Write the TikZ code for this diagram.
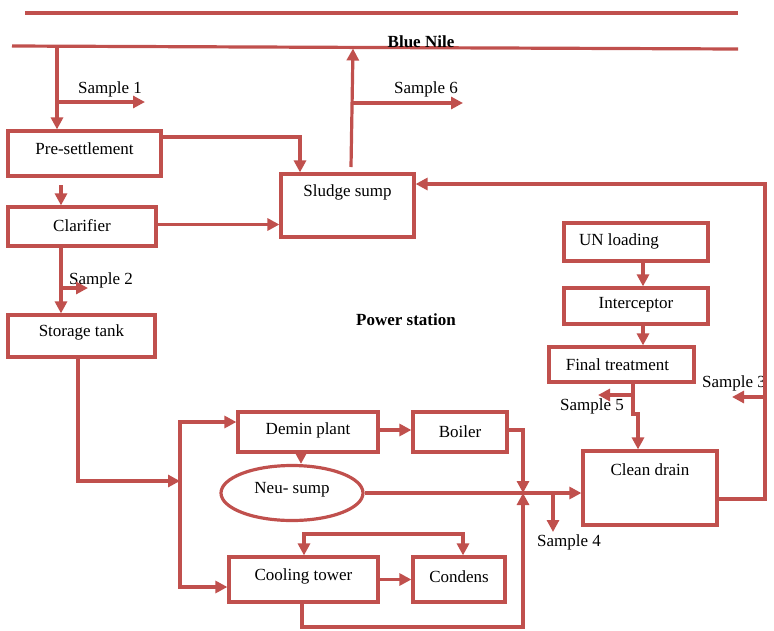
\documentclass[tikz,border=0pt]{standalone}
\usepackage{fontspec}
\setmainfont{Liberation Serif}
\usetikzlibrary{arrows.meta,shapes.geometric}
\definecolor{nred}{RGB}{192,80,77}
\begin{document}
\begin{tikzpicture}[x=1pt,y=-1pt,
  box/.style={draw=nred,line width=3.2pt,inner sep=0pt,rectangle},
  oval/.style={draw=nred,line width=3.2pt,inner sep=0pt,ellipse},
  txt/.style={font=\fontsize{17}{20}\selectfont,inner sep=0pt,text=black},
  btxt/.style={font=\fontsize{17}{20}\selectfont\bfseries,inner sep=0pt,text=black},
  ln/.style={draw=nred,line width=3.2pt,line join=miter},
  arr/.style={ln,-{Triangle[length=12pt,width=12pt]}},
  darr/.style={ln,{Triangle[length=12pt,width=12pt]}-{Triangle[length=12pt,width=12pt]}}]
\useasboundingbox (0,0) rectangle (774,630);

% rivers
\coordinate (topL) at (25,13);
\coordinate (topR) at (738,13);
\coordinate (nileL) at (12,46);
\coordinate (nileR) at (738,49);
\draw[ln] (topL) -- (topR);
\draw[ln] (nileL) -- (nileR);
\node[btxt] (bluenile) at (421,42) {Blue Nile};
\node[btxt] (power) at (406,320) {Power station};

% boxes
\node[box,minimum width=153pt,minimum height=45pt,label={[txt,yshift=5pt]center:Pre-settlement}] (pre) at (84.5,153.5) {};
\node[box,minimum width=148pt,minimum height=39pt,label={[txt,yshift=1pt]center:Clarifier}] (clar) at (82,226.5) {};
\node[box,minimum width=147pt,minimum height=42pt,label={[txt,yshift=4pt]center:Storage tank}] (stor) at (81.5,336) {};
\node[box,minimum width=133pt,minimum height=63pt,label={[txt,yshift=13pt]center:Sludge sump}] (sludge) at (347.5,205.5) {};
\node[box,minimum width=144pt,minimum height=38pt,label={[txt,xshift=-17pt,yshift=1pt]center:UN loading}] (un) at (636,242) {};
\node[box,minimum width=144pt,minimum height=36pt,label={[txt,yshift=1pt]center:Interceptor}] (inter) at (636,306) {};
\node[box,minimum width=145pt,minimum height=35pt,label={[txt,xshift=-4pt]center:Final treatment}] (final) at (621.5,364.5) {};
\node[box,minimum width=140pt,minimum height=40pt,label={[txt,yshift=2pt]center:Demin plant}] (demin) at (308,432) {};
\node[box,minimum width=94pt,minimum height=40pt,label={[txt]center:Boiler}] (boiler) at (460,432) {};
\node[oval,minimum width=142pt,minimum height=55pt,label={[txt,yshift=3pt]center:Neu- sump}] (neu) at (292,493) {};
\node[box,minimum width=149pt,minimum height=45pt,label={[txt,yshift=3pt]center:Cooling tower}] (cool) at (303.5,579.5) {};
\node[box,minimum width=92pt,minimum height=45pt,label={[txt,yshift=3pt]center:Condens}] (cond) at (459,579.5) {};
\node[box,minimum width=134pt,minimum height=74pt,label={[txt,yshift=18pt]center:Clean drain}] (clean) at (650,488) {};

% sample labels
\node[txt] (lab1) at (110,89) {Sample 1};
\node[txt] (lab6) at (426,89) {Sample 6};
\node[txt] (lab2) at (101,280) {Sample 2};
\node[txt] (lab3) at (734,383) {Sample 3};
\node[txt] (lab5) at (592,406) {Sample 5};
\node[txt] (lab4) at (569,542) {Sample 4};

% coordinates
\coordinate (nileA) at (57,46.3);
\coordinate (s1) at (57,102);
\coordinate (s1e) at (145,102);
\coordinate (nileB) at (353,48.5);
\coordinate (sludgeOut) at (351,167);
\coordinate (s6) at (352,103);
\coordinate (s6e) at (463,103);
\coordinate (pcA) at (61,185);
\coordinate (csA) at (61,246);
\coordinate (s2) at (61,288);
\coordinate (s2e) at (88,288);
\coordinate (bus) at (180,481);
\coordinate (busTop) at (180,422);
\coordinate (busBot) at (180,587);
\coordinate (junc) at (523,493);
\coordinate (juncB) at (523,627);
\coordinate (s4) at (553,493);
\coordinate (s4e) at (553,532);
\coordinate (loopM) at (383,534);
\coordinate (rtop) at (765,184);
\coordinate (s3) at (765,397);
\coordinate (s3e) at (732,397);
\coordinate (jog1) at (633,414);
\coordinate (jog2) at (638,414);
\coordinate (s5) at (633,395);
\coordinate (s5e) at (598,395);

% connectors
\draw[arr] (nileA) -- (nileA |- pre.north);
\draw[arr] (s1) -- (s1e);
\draw[arr] ([yshift=16.5pt]pre.east) -| ([xshift=-47.5pt]sludge.north);
\draw[arr] (pcA) -- (pcA |- clar.north);
\draw[arr] ([yshift=2pt]clar.east) -- ([yshift=2pt]clar.east -| sludge.west);
\draw[arr] (sludgeOut) -- (nileB);
\draw[arr] (s6) -- (s6e);
\draw[arr] (csA) -- (csA |- stor.north);
\draw[arr] (s2) -- (s2e);
\draw[arr] ([xshift=-3.5pt]stor.south) |- (bus);
\draw[arr] (busBot) -- (busTop) -- (busTop -| demin.west);
\draw[arr] (bus) -- (busBot) -- (busBot -| cool.west);
\draw[arr] ([yshift=2pt]demin.east) -- ([yshift=2pt]demin.east -| boiler.west);
\draw[arr] ([yshift=2pt]boiler.east) -| (junc);
\draw[arr] ([xshift=-7pt]demin.south) -- ([xshift=9pt]neu.north);
\draw[arr] (neu.east) -- (neu.east -| clean.west);
\draw[arr] (s4) -- (s4e);
\draw[darr] ([xshift=0.5pt]cool.north) |- (loopM) -| ([xshift=4pt]cond.north);
\draw[arr] (cool.east) -- (cool.east -| cond.west);
\draw[arr] ([xshift=-1.5pt]cool.south) |- (juncB) -- (junc);
\draw[arr] ([yshift=-11pt]clean.east) -| (rtop) -- (rtop -| sludge.east);
\draw[arr] (s3) -- (s3e);
\draw[arr] ([xshift=7pt]un.south) -- ([xshift=7pt]un.south |- inter.north);
\draw[arr] ([xshift=7pt]inter.south) -- ([xshift=7pt]inter.south |- final.north);
\draw[arr] ([xshift=11.5pt]final.south) -- (jog1) -- (jog2) -- (jog2 |- clean.north);
\draw[arr] (s5) -- (s5e);
\end{tikzpicture}
\end{document}
